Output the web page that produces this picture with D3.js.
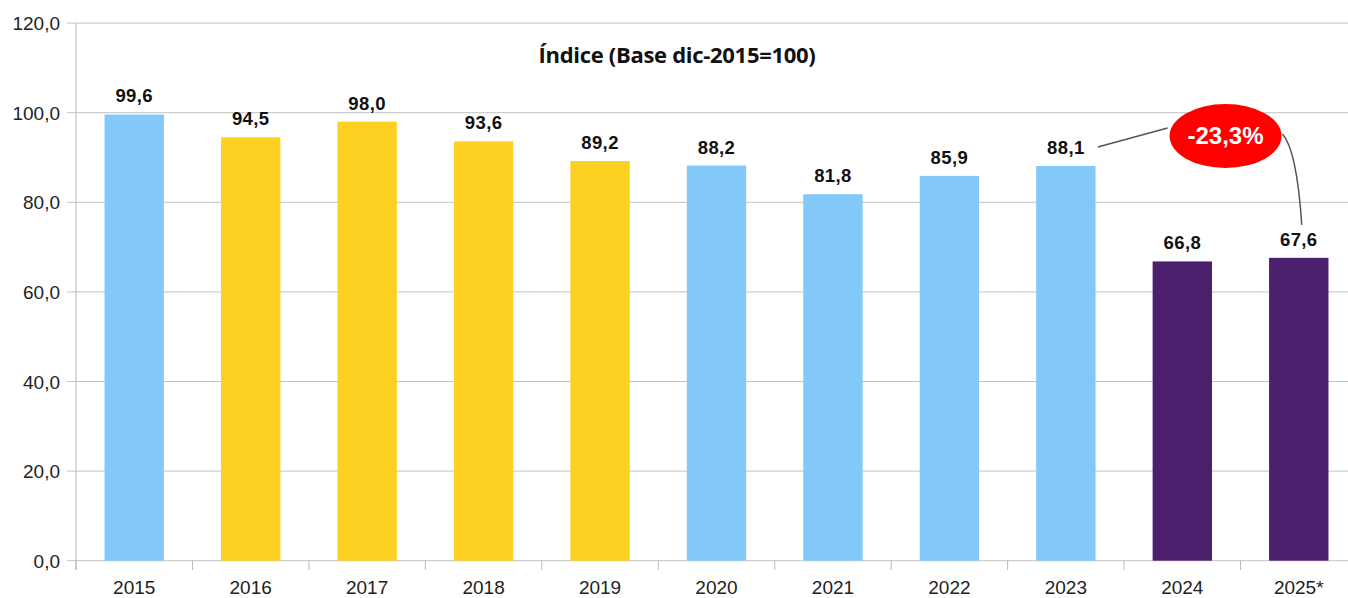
<!DOCTYPE html>
<html>
<head>
<meta charset="utf-8">
<script src="https://cdn.jsdelivr.net/npm/d3@7"></script>
<style>
  body { margin: 0; background: #fff; }
  svg { display: block; font-family: "Liberation Sans", Arial, sans-serif; }
</style>
</head>
<body>
<svg id="chart" width="1348" height="598"></svg>
<script>
// data
const years = ['2015', '2016', '2017', '2018', '2019', '2020', '2021', '2022', '2023', '2024', '2025*']
const values = [99.6, 94.5, 98.0, 93.6, 89.2, 88.2, 81.8, 85.9, 88.1, 66.8, 67.6]
const groups = ['a', 'b', 'b', 'b', 'b', 'a', 'a', 'a', 'a', 'c', 'c']
const yTicks = [0, 20, 40, 60, 80, 100, 120]
const title = 'Índice (Base dic-2015=100)'
const change = { from: '2023', to: '2025*', label: '-23,3%' }

const data = years.map((year, i) => ({ year, value: values[i], group: groups[i] }))

const fmt = v => d3.format('.1f')(v).replace('.', ',')

const svg = d3.select('#chart')

const x = d3.scaleBand()
    .domain(years)
    .range([76, 1357])
    .paddingInner(0.49)
    .paddingOuter(0.245)

const y = d3.scaleLinear()
    .domain([0, 120])
    .range([560.7, 23.1])

const color = d3.scaleOrdinal()
    .domain(['a', 'b', 'c'])
    .range(['#82c9fa', '#fdd022', '#4b1f6b'])

/**
 * Gridlines + y labels
 */
svg.append('g')
    .selectAll('line')
    .data(yTicks)
    .join('line')
    .attr('x1', 67)
    .attr('x2', 1357)
    .attr('y1', d => y(d))
    .attr('y2', d => y(d))
    .attr('stroke', '#c3c3c3')
    .attr('stroke-width', 1)

svg.append('g')
    .selectAll('text')
    .data(yTicks)
    .join('text')
    .attr('x', 60)
    .attr('y', d => y(d) + 7)
    .attr('text-anchor', 'end')
    .attr('font-size', 19)
    .attr('fill', '#222')
    .text(fmt)

// left axis line
svg.append('line')
    .attr('x1', 76).attr('x2', 76)
    .attr('y1', y(120)).attr('y2', 570)
    .attr('stroke', '#b8b8b8')

// x ticks on the band boundaries
const step = x.step()
svg.append('g')
    .selectAll('line')
    .data(d3.range(years.length + 1))
    .join('line')
    .attr('x1', i => 76 + i * step)
    .attr('x2', i => 76 + i * step)
    .attr('y1', y(0))
    .attr('y2', 570)
    .attr('stroke', '#b8b8b8')

/**
 * Bars
 */
svg.append('g')
    .selectAll('rect')
    .data(data)
    .join('rect')
    .attr('x', d => x(d.year))
    .attr('y', d => y(d.value))
    .attr('width', x.bandwidth())
    .attr('height', d => y(0) - y(d.value))
    .attr('fill', d => color(d.group))

// value labels
svg.append('g')
    .selectAll('text')
    .data(data)
    .join('text')
    .attr('x', d => x(d.year) + x.bandwidth() / 2)
    .attr('y', d => y(d.value) - 12)
    .attr('text-anchor', 'middle')
    .attr('font-size', 18.5)
    .attr('font-weight', 'bold')
    .attr('letter-spacing', 0.4)
    .attr('fill', '#111')
    .text(d => fmt(d.value))

// x labels
svg.append('g')
    .selectAll('text')
    .data(years)
    .join('text')
    .attr('x', d => x(d) + x.bandwidth() / 2)
    .attr('y', 594)
    .attr('text-anchor', 'middle')
    .attr('font-size', 19)
    .attr('fill', '#222')
    .text(d => d)

// title
svg.append('text')
    .attr('x', 677)
    .attr('y', 63)
    .attr('text-anchor', 'middle')
    .attr('font-family', '"Open Sans", sans-serif')
    .attr('font-size', 22)
    .attr('font-weight', 'bold')
    .attr('letter-spacing', -0.3)
    .attr('fill', '#111')
    .text(title)

/**
 * Change annotation: bubble with connectors
 */
const fromX = x(change.from) + x.bandwidth() / 2
const toX = x(change.to) + x.bandwidth() / 2
const fromV = values[years.indexOf(change.from)]
const toV = values[years.indexOf(change.to)]
const cx = (x(years[years.length - 2]) + x.bandwidth() / 2 + toX) / 2 - 15
const cy = y(fromV) - 30

const ann = svg.append('g')

ann.append('line')
    .attr('x1', fromX + 32)
    .attr('y1', y(fromV) - 19)
    .attr('x2', cx - 58)
    .attr('y2', cy - 8)
    .attr('stroke', '#555')
    .attr('stroke-width', 1.5)

const p = d3.path()
p.moveTo(cx + 57, cy - 2)
p.quadraticCurveTo(toX - 2, cy + 14, toX + 3, y(toV) - 33)
ann.append('path')
    .attr('d', p.toString())
    .attr('fill', 'none')
    .attr('stroke', '#555')
    .attr('stroke-width', 1.5)

ann.append('ellipse')
    .attr('cx', cx)
    .attr('cy', cy)
    .attr('rx', 56)
    .attr('ry', 32)
    .attr('fill', '#fe0000')

ann.append('text')
    .attr('x', cx)
    .attr('y', cy + 8)
    .attr('text-anchor', 'middle')
    .attr('font-size', 24)
    .attr('font-weight', 'bold')
    .attr('fill', '#fff')
    .text(change.label)
</script>
</body>
</html>
